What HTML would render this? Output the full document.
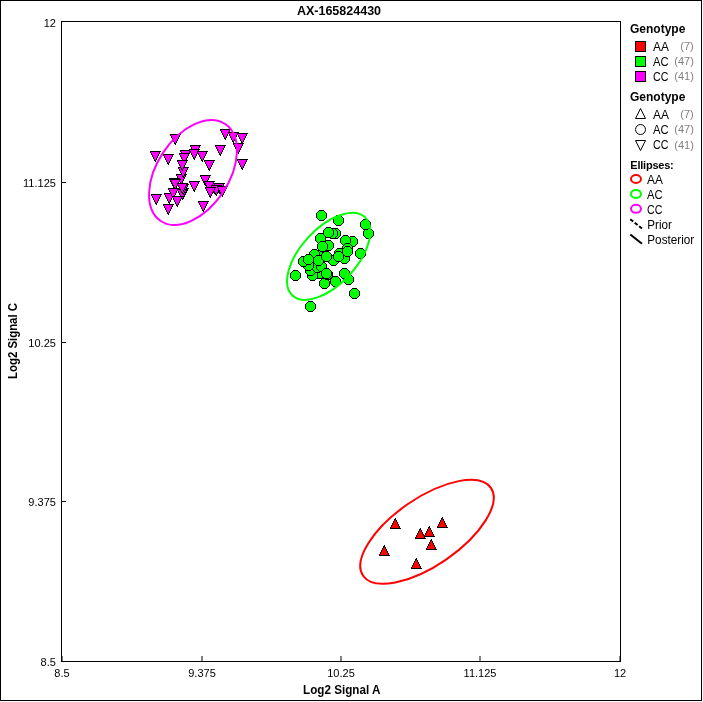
<!DOCTYPE html>
<html><head><meta charset="utf-8"><title>AX-165824430</title>
<style>
html,body{margin:0;padding:0;background:#fff;}
svg{display:block;font-family:"Liberation Sans",sans-serif;}
.t{font-size:11px;fill:#000;}
.b{font-weight:bold;fill:#000;}
.g{fill:#808080;}
</style></head><body>
<svg width="703" height="702" viewBox="0 0 703 702">
<rect x="0" y="0" width="703" height="702" fill="#fff"/>
<rect x="0.5" y="0.5" width="701" height="700" fill="none" stroke="#000" stroke-width="1" shape-rendering="crispEdges"/>
<rect x="61.5" y="21.5" width="559" height="640" fill="none" stroke="#000" stroke-width="1" shape-rendering="crispEdges"/>

<g fill="#808080" shape-rendering="crispEdges">
<rect x="62" y="656" width="1" height="5"/>
<rect x="201" y="656" width="2" height="5"/>
<rect x="340" y="656" width="2" height="5"/>
<rect x="479" y="656" width="2" height="5"/>
<rect x="619" y="656" width="1" height="5"/>
</g><g stroke="#000" stroke-width="1" shape-rendering="crispEdges">
<line x1="62" y1="182.5" x2="66" y2="182.5"/>
<line x1="62" y1="342.5" x2="66" y2="342.5"/>
<line x1="62" y1="501.5" x2="66" y2="501.5"/>
</g>
<text class="t" x="55.9" y="27" text-anchor="end">12</text>
<text class="t" x="55.9" y="187" text-anchor="end">11.125</text>
<text class="t" x="55.9" y="347" text-anchor="end">10.25</text>
<text class="t" x="55.9" y="506" text-anchor="end">9.375</text>
<text class="t" x="55.9" y="666" text-anchor="end">8.5</text>
<text class="t" x="62" y="677" text-anchor="middle">8.5</text>
<text class="t" x="202" y="677" text-anchor="middle">9.375</text>
<text class="t" x="341" y="677" text-anchor="middle">10.25</text>
<text class="t" x="480" y="677" text-anchor="middle">11.125</text>
<text class="t" x="620" y="677" text-anchor="middle">12</text>
<text class="b" x="339" y="15" text-anchor="middle" font-size="12.5">AX-165824430</text>
<text class="b" x="303" y="693.6" font-size="12.4" textLength="77.4" lengthAdjust="spacingAndGlyphs">Log2 Signal A</text>
<text class="b" transform="translate(16.9,379) rotate(-90)" font-size="12.4" textLength="76" lengthAdjust="spacingAndGlyphs">Log2 Signal C</text>
<g shape-rendering="crispEdges">
<g transform="translate(390,518)"><path fill="#000" d="M5 0h1v1h-1zM4 1h2v1h-2zM4 2h3v1h-3zM3 3h4v1h-4zM3 4h5v1h-5zM2 5h6v1h-6zM2 6h7v1h-7zM1 7h8v1h-8zM1 8h9v1h-9zM0 9h10v1h-10zM0 10h11v1h-11z"/><path fill="#ff0000" d="M5 2h1v1h-1zM4 3h2v1h-2zM4 4h3v1h-3zM3 5h4v1h-4zM3 6h5v1h-5zM2 7h6v1h-6zM2 8h7v1h-7zM1 9h8v1h-8z"/></g>
<g transform="translate(379,545)"><path fill="#000" d="M5 0h1v1h-1zM4 1h2v1h-2zM4 2h3v1h-3zM3 3h4v1h-4zM3 4h5v1h-5zM2 5h6v1h-6zM2 6h7v1h-7zM1 7h8v1h-8zM1 8h9v1h-9zM0 9h10v1h-10zM0 10h11v1h-11z"/><path fill="#ff0000" d="M5 2h1v1h-1zM4 3h2v1h-2zM4 4h3v1h-3zM3 5h4v1h-4zM3 6h5v1h-5zM2 7h6v1h-6zM2 8h7v1h-7zM1 9h8v1h-8z"/></g>
<g transform="translate(415,528)"><path fill="#000" d="M5 0h1v1h-1zM4 1h2v1h-2zM4 2h3v1h-3zM3 3h4v1h-4zM3 4h5v1h-5zM2 5h6v1h-6zM2 6h7v1h-7zM1 7h8v1h-8zM1 8h9v1h-9zM0 9h10v1h-10zM0 10h11v1h-11z"/><path fill="#ff0000" d="M5 2h1v1h-1zM4 3h2v1h-2zM4 4h3v1h-3zM3 5h4v1h-4zM3 6h5v1h-5zM2 7h6v1h-6zM2 8h7v1h-7zM1 9h8v1h-8z"/></g>
<g transform="translate(424,526)"><path fill="#000" d="M5 0h1v1h-1zM4 1h2v1h-2zM4 2h3v1h-3zM3 3h4v1h-4zM3 4h5v1h-5zM2 5h6v1h-6zM2 6h7v1h-7zM1 7h8v1h-8zM1 8h9v1h-9zM0 9h10v1h-10zM0 10h11v1h-11z"/><path fill="#ff0000" d="M5 2h1v1h-1zM4 3h2v1h-2zM4 4h3v1h-3zM3 5h4v1h-4zM3 6h5v1h-5zM2 7h6v1h-6zM2 8h7v1h-7zM1 9h8v1h-8z"/></g>
<g transform="translate(437,517)"><path fill="#000" d="M5 0h1v1h-1zM4 1h2v1h-2zM4 2h3v1h-3zM3 3h4v1h-4zM3 4h5v1h-5zM2 5h6v1h-6zM2 6h7v1h-7zM1 7h8v1h-8zM1 8h9v1h-9zM0 9h10v1h-10zM0 10h11v1h-11z"/><path fill="#ff0000" d="M5 2h1v1h-1zM4 3h2v1h-2zM4 4h3v1h-3zM3 5h4v1h-4zM3 6h5v1h-5zM2 7h6v1h-6zM2 8h7v1h-7zM1 9h8v1h-8z"/></g>
<g transform="translate(426,539)"><path fill="#000" d="M5 0h1v1h-1zM4 1h2v1h-2zM4 2h3v1h-3zM3 3h4v1h-4zM3 4h5v1h-5zM2 5h6v1h-6zM2 6h7v1h-7zM1 7h8v1h-8zM1 8h9v1h-9zM0 9h10v1h-10zM0 10h11v1h-11z"/><path fill="#ff0000" d="M5 2h1v1h-1zM4 3h2v1h-2zM4 4h3v1h-3zM3 5h4v1h-4zM3 6h5v1h-5zM2 7h6v1h-6zM2 8h7v1h-7zM1 9h8v1h-8z"/></g>
<g transform="translate(411,558)"><path fill="#000" d="M5 0h1v1h-1zM4 1h2v1h-2zM4 2h3v1h-3zM3 3h4v1h-4zM3 4h5v1h-5zM2 5h6v1h-6zM2 6h7v1h-7zM1 7h8v1h-8zM1 8h9v1h-9zM0 9h10v1h-10zM0 10h11v1h-11z"/><path fill="#ff0000" d="M5 2h1v1h-1zM4 3h2v1h-2zM4 4h3v1h-3zM3 5h4v1h-4zM3 6h5v1h-5zM2 7h6v1h-6zM2 8h7v1h-7zM1 9h8v1h-8z"/></g>
<g transform="translate(305,301)"><path fill="#000" d="M3 0h5v1h-5zM2 1h7v1h-7zM1 2h9v1h-9zM0 3h11v1h-11zM0 4h11v1h-11zM0 5h11v1h-11zM0 6h11v1h-11zM0 7h11v1h-11zM1 8h9v1h-9zM2 9h7v1h-7zM3 10h5v1h-5z"/><path fill="#00ff00" d="M3 1h5v1h-5zM2 2h7v1h-7zM1 3h9v1h-9zM1 4h9v1h-9zM1 5h9v1h-9zM1 6h9v1h-9zM1 7h9v1h-9zM2 8h7v1h-7zM3 9h5v1h-5z"/></g>
<g transform="translate(349,288)"><path fill="#000" d="M3 0h5v1h-5zM2 1h7v1h-7zM1 2h9v1h-9zM0 3h11v1h-11zM0 4h11v1h-11zM0 5h11v1h-11zM0 6h11v1h-11zM0 7h11v1h-11zM1 8h9v1h-9zM2 9h7v1h-7zM3 10h5v1h-5z"/><path fill="#00ff00" d="M3 1h5v1h-5zM2 2h7v1h-7zM1 3h9v1h-9zM1 4h9v1h-9zM1 5h9v1h-9zM1 6h9v1h-9zM1 7h9v1h-9zM2 8h7v1h-7zM3 9h5v1h-5z"/></g>
<g transform="translate(319,278)"><path fill="#000" d="M3 0h5v1h-5zM2 1h7v1h-7zM1 2h9v1h-9zM0 3h11v1h-11zM0 4h11v1h-11zM0 5h11v1h-11zM0 6h11v1h-11zM0 7h11v1h-11zM1 8h9v1h-9zM2 9h7v1h-7zM3 10h5v1h-5z"/><path fill="#00ff00" d="M3 1h5v1h-5zM2 2h7v1h-7zM1 3h9v1h-9zM1 4h9v1h-9zM1 5h9v1h-9zM1 6h9v1h-9zM1 7h9v1h-9zM2 8h7v1h-7zM3 9h5v1h-5z"/></g>
<g transform="translate(330,276)"><path fill="#000" d="M3 0h5v1h-5zM2 1h7v1h-7zM1 2h9v1h-9zM0 3h11v1h-11zM0 4h11v1h-11zM0 5h11v1h-11zM0 6h11v1h-11zM0 7h11v1h-11zM1 8h9v1h-9zM2 9h7v1h-7zM3 10h5v1h-5z"/><path fill="#00ff00" d="M3 1h5v1h-5zM2 2h7v1h-7zM1 3h9v1h-9zM1 4h9v1h-9zM1 5h9v1h-9zM1 6h9v1h-9zM1 7h9v1h-9zM2 8h7v1h-7zM3 9h5v1h-5z"/></g>
<g transform="translate(343,274)"><path fill="#000" d="M3 0h5v1h-5zM2 1h7v1h-7zM1 2h9v1h-9zM0 3h11v1h-11zM0 4h11v1h-11zM0 5h11v1h-11zM0 6h11v1h-11zM0 7h11v1h-11zM1 8h9v1h-9zM2 9h7v1h-7zM3 10h5v1h-5z"/><path fill="#00ff00" d="M3 1h5v1h-5zM2 2h7v1h-7zM1 3h9v1h-9zM1 4h9v1h-9zM1 5h9v1h-9zM1 6h9v1h-9zM1 7h9v1h-9zM2 8h7v1h-7zM3 9h5v1h-5z"/></g>
<g transform="translate(314,268)"><path fill="#000" d="M3 0h5v1h-5zM2 1h7v1h-7zM1 2h9v1h-9zM0 3h11v1h-11zM0 4h11v1h-11zM0 5h11v1h-11zM0 6h11v1h-11zM0 7h11v1h-11zM1 8h9v1h-9zM2 9h7v1h-7zM3 10h5v1h-5z"/><path fill="#00ff00" d="M3 1h5v1h-5zM2 2h7v1h-7zM1 3h9v1h-9zM1 4h9v1h-9zM1 5h9v1h-9zM1 6h9v1h-9zM1 7h9v1h-9zM2 8h7v1h-7zM3 9h5v1h-5z"/></g>
<g transform="translate(307,270)"><path fill="#000" d="M3 0h5v1h-5zM2 1h7v1h-7zM1 2h9v1h-9zM0 3h11v1h-11zM0 4h11v1h-11zM0 5h11v1h-11zM0 6h11v1h-11zM0 7h11v1h-11zM1 8h9v1h-9zM2 9h7v1h-7zM3 10h5v1h-5z"/><path fill="#00ff00" d="M3 1h5v1h-5zM2 2h7v1h-7zM1 3h9v1h-9zM1 4h9v1h-9zM1 5h9v1h-9zM1 6h9v1h-9zM1 7h9v1h-9zM2 8h7v1h-7zM3 9h5v1h-5z"/></g>
<g transform="translate(290,270)"><path fill="#000" d="M3 0h5v1h-5zM2 1h7v1h-7zM1 2h9v1h-9zM0 3h11v1h-11zM0 4h11v1h-11zM0 5h11v1h-11zM0 6h11v1h-11zM0 7h11v1h-11zM1 8h9v1h-9zM2 9h7v1h-7zM3 10h5v1h-5z"/><path fill="#00ff00" d="M3 1h5v1h-5zM2 2h7v1h-7zM1 3h9v1h-9zM1 4h9v1h-9zM1 5h9v1h-9zM1 6h9v1h-9zM1 7h9v1h-9zM2 8h7v1h-7zM3 9h5v1h-5z"/></g>
<g transform="translate(339,268)"><path fill="#000" d="M3 0h5v1h-5zM2 1h7v1h-7zM1 2h9v1h-9zM0 3h11v1h-11zM0 4h11v1h-11zM0 5h11v1h-11zM0 6h11v1h-11zM0 7h11v1h-11zM1 8h9v1h-9zM2 9h7v1h-7zM3 10h5v1h-5z"/><path fill="#00ff00" d="M3 1h5v1h-5zM2 2h7v1h-7zM1 3h9v1h-9zM1 4h9v1h-9zM1 5h9v1h-9zM1 6h9v1h-9zM1 7h9v1h-9zM2 8h7v1h-7zM3 9h5v1h-5z"/></g>
<g transform="translate(305,265)"><path fill="#000" d="M3 0h5v1h-5zM2 1h7v1h-7zM1 2h9v1h-9zM0 3h11v1h-11zM0 4h11v1h-11zM0 5h11v1h-11zM0 6h11v1h-11zM0 7h11v1h-11zM1 8h9v1h-9zM2 9h7v1h-7zM3 10h5v1h-5z"/><path fill="#00ff00" d="M3 1h5v1h-5zM2 2h7v1h-7zM1 3h9v1h-9zM1 4h9v1h-9zM1 5h9v1h-9zM1 6h9v1h-9zM1 7h9v1h-9zM2 8h7v1h-7zM3 9h5v1h-5z"/></g>
<g transform="translate(312,262)"><path fill="#000" d="M3 0h5v1h-5zM2 1h7v1h-7zM1 2h9v1h-9zM0 3h11v1h-11zM0 4h11v1h-11zM0 5h11v1h-11zM0 6h11v1h-11zM0 7h11v1h-11zM1 8h9v1h-9zM2 9h7v1h-7zM3 10h5v1h-5z"/><path fill="#00ff00" d="M3 1h5v1h-5zM2 2h7v1h-7zM1 3h9v1h-9zM1 4h9v1h-9zM1 5h9v1h-9zM1 6h9v1h-9zM1 7h9v1h-9zM2 8h7v1h-7zM3 9h5v1h-5z"/></g>
<g transform="translate(316,261)"><path fill="#000" d="M3 0h5v1h-5zM2 1h7v1h-7zM1 2h9v1h-9zM0 3h11v1h-11zM0 4h11v1h-11zM0 5h11v1h-11zM0 6h11v1h-11zM0 7h11v1h-11zM1 8h9v1h-9zM2 9h7v1h-7zM3 10h5v1h-5z"/><path fill="#00ff00" d="M3 1h5v1h-5zM2 2h7v1h-7zM1 3h9v1h-9zM1 4h9v1h-9zM1 5h9v1h-9zM1 6h9v1h-9zM1 7h9v1h-9zM2 8h7v1h-7zM3 9h5v1h-5z"/></g>
<g transform="translate(322,269)"><path fill="#000" d="M3 0h5v1h-5zM2 1h7v1h-7zM1 2h9v1h-9zM0 3h11v1h-11zM0 4h11v1h-11zM0 5h11v1h-11zM0 6h11v1h-11zM0 7h11v1h-11zM1 8h9v1h-9zM2 9h7v1h-7zM3 10h5v1h-5z"/><path fill="#00ff00" d="M3 1h5v1h-5zM2 2h7v1h-7zM1 3h9v1h-9zM1 4h9v1h-9zM1 5h9v1h-9zM1 6h9v1h-9zM1 7h9v1h-9zM2 8h7v1h-7zM3 9h5v1h-5z"/></g>
<g transform="translate(321,268)"><path fill="#000" d="M3 0h5v1h-5zM2 1h7v1h-7zM1 2h9v1h-9zM0 3h11v1h-11zM0 4h11v1h-11zM0 5h11v1h-11zM0 6h11v1h-11zM0 7h11v1h-11zM1 8h9v1h-9zM2 9h7v1h-7zM3 10h5v1h-5z"/><path fill="#00ff00" d="M3 1h5v1h-5zM2 2h7v1h-7zM1 3h9v1h-9zM1 4h9v1h-9zM1 5h9v1h-9zM1 6h9v1h-9zM1 7h9v1h-9zM2 8h7v1h-7zM3 9h5v1h-5z"/></g>
<g transform="translate(303,260)"><path fill="#000" d="M3 0h5v1h-5zM2 1h7v1h-7zM1 2h9v1h-9zM0 3h11v1h-11zM0 4h11v1h-11zM0 5h11v1h-11zM0 6h11v1h-11zM0 7h11v1h-11zM1 8h9v1h-9zM2 9h7v1h-7zM3 10h5v1h-5z"/><path fill="#00ff00" d="M3 1h5v1h-5zM2 2h7v1h-7zM1 3h9v1h-9zM1 4h9v1h-9zM1 5h9v1h-9zM1 6h9v1h-9zM1 7h9v1h-9zM2 8h7v1h-7zM3 9h5v1h-5z"/></g>
<g transform="translate(298,256)"><path fill="#000" d="M3 0h5v1h-5zM2 1h7v1h-7zM1 2h9v1h-9zM0 3h11v1h-11zM0 4h11v1h-11zM0 5h11v1h-11zM0 6h11v1h-11zM0 7h11v1h-11zM1 8h9v1h-9zM2 9h7v1h-7zM3 10h5v1h-5z"/><path fill="#00ff00" d="M3 1h5v1h-5zM2 2h7v1h-7zM1 3h9v1h-9zM1 4h9v1h-9zM1 5h9v1h-9zM1 6h9v1h-9zM1 7h9v1h-9zM2 8h7v1h-7zM3 9h5v1h-5z"/></g>
<g transform="translate(328,255)"><path fill="#000" d="M3 0h5v1h-5zM2 1h7v1h-7zM1 2h9v1h-9zM0 3h11v1h-11zM0 4h11v1h-11zM0 5h11v1h-11zM0 6h11v1h-11zM0 7h11v1h-11zM1 8h9v1h-9zM2 9h7v1h-7zM3 10h5v1h-5z"/><path fill="#00ff00" d="M3 1h5v1h-5zM2 2h7v1h-7zM1 3h9v1h-9zM1 4h9v1h-9zM1 5h9v1h-9zM1 6h9v1h-9zM1 7h9v1h-9zM2 8h7v1h-7zM3 9h5v1h-5z"/></g>
<g transform="translate(313,250)"><path fill="#000" d="M3 0h5v1h-5zM2 1h7v1h-7zM1 2h9v1h-9zM0 3h11v1h-11zM0 4h11v1h-11zM0 5h11v1h-11zM0 6h11v1h-11zM0 7h11v1h-11zM1 8h9v1h-9zM2 9h7v1h-7zM3 10h5v1h-5z"/><path fill="#00ff00" d="M3 1h5v1h-5zM2 2h7v1h-7zM1 3h9v1h-9zM1 4h9v1h-9zM1 5h9v1h-9zM1 6h9v1h-9zM1 7h9v1h-9zM2 8h7v1h-7zM3 9h5v1h-5z"/></g>
<g transform="translate(309,249)"><path fill="#000" d="M3 0h5v1h-5zM2 1h7v1h-7zM1 2h9v1h-9zM0 3h11v1h-11zM0 4h11v1h-11zM0 5h11v1h-11zM0 6h11v1h-11zM0 7h11v1h-11zM1 8h9v1h-9zM2 9h7v1h-7zM3 10h5v1h-5z"/><path fill="#00ff00" d="M3 1h5v1h-5zM2 2h7v1h-7zM1 3h9v1h-9zM1 4h9v1h-9zM1 5h9v1h-9zM1 6h9v1h-9zM1 7h9v1h-9zM2 8h7v1h-7zM3 9h5v1h-5z"/></g>
<g transform="translate(313,255)"><path fill="#000" d="M3 0h5v1h-5zM2 1h7v1h-7zM1 2h9v1h-9zM0 3h11v1h-11zM0 4h11v1h-11zM0 5h11v1h-11zM0 6h11v1h-11zM0 7h11v1h-11zM1 8h9v1h-9zM2 9h7v1h-7zM3 10h5v1h-5z"/><path fill="#00ff00" d="M3 1h5v1h-5zM2 2h7v1h-7zM1 3h9v1h-9zM1 4h9v1h-9zM1 5h9v1h-9zM1 6h9v1h-9zM1 7h9v1h-9zM2 8h7v1h-7zM3 9h5v1h-5z"/></g>
<g transform="translate(303,254)"><path fill="#000" d="M3 0h5v1h-5zM2 1h7v1h-7zM1 2h9v1h-9zM0 3h11v1h-11zM0 4h11v1h-11zM0 5h11v1h-11zM0 6h11v1h-11zM0 7h11v1h-11zM1 8h9v1h-9zM2 9h7v1h-7zM3 10h5v1h-5z"/><path fill="#00ff00" d="M3 1h5v1h-5zM2 2h7v1h-7zM1 3h9v1h-9zM1 4h9v1h-9zM1 5h9v1h-9zM1 6h9v1h-9zM1 7h9v1h-9zM2 8h7v1h-7zM3 9h5v1h-5z"/></g>
<g transform="translate(339,253)"><path fill="#000" d="M3 0h5v1h-5zM2 1h7v1h-7zM1 2h9v1h-9zM0 3h11v1h-11zM0 4h11v1h-11zM0 5h11v1h-11zM0 6h11v1h-11zM0 7h11v1h-11zM1 8h9v1h-9zM2 9h7v1h-7zM3 10h5v1h-5z"/><path fill="#00ff00" d="M3 1h5v1h-5zM2 2h7v1h-7zM1 3h9v1h-9zM1 4h9v1h-9zM1 5h9v1h-9zM1 6h9v1h-9zM1 7h9v1h-9zM2 8h7v1h-7zM3 9h5v1h-5z"/></g>
<g transform="translate(321,251)"><path fill="#000" d="M3 0h5v1h-5zM2 1h7v1h-7zM1 2h9v1h-9zM0 3h11v1h-11zM0 4h11v1h-11zM0 5h11v1h-11zM0 6h11v1h-11zM0 7h11v1h-11zM1 8h9v1h-9zM2 9h7v1h-7zM3 10h5v1h-5z"/><path fill="#00ff00" d="M3 1h5v1h-5zM2 2h7v1h-7zM1 3h9v1h-9zM1 4h9v1h-9zM1 5h9v1h-9zM1 6h9v1h-9zM1 7h9v1h-9zM2 8h7v1h-7zM3 9h5v1h-5z"/></g>
<g transform="translate(334,248)"><path fill="#000" d="M3 0h5v1h-5zM2 1h7v1h-7zM1 2h9v1h-9zM0 3h11v1h-11zM0 4h11v1h-11zM0 5h11v1h-11zM0 6h11v1h-11zM0 7h11v1h-11zM1 8h9v1h-9zM2 9h7v1h-7zM3 10h5v1h-5z"/><path fill="#00ff00" d="M3 1h5v1h-5zM2 2h7v1h-7zM1 3h9v1h-9zM1 4h9v1h-9zM1 5h9v1h-9zM1 6h9v1h-9zM1 7h9v1h-9zM2 8h7v1h-7zM3 9h5v1h-5z"/></g>
<g transform="translate(333,251)"><path fill="#000" d="M3 0h5v1h-5zM2 1h7v1h-7zM1 2h9v1h-9zM0 3h11v1h-11zM0 4h11v1h-11zM0 5h11v1h-11zM0 6h11v1h-11zM0 7h11v1h-11zM1 8h9v1h-9zM2 9h7v1h-7zM3 10h5v1h-5z"/><path fill="#00ff00" d="M3 1h5v1h-5zM2 2h7v1h-7zM1 3h9v1h-9zM1 4h9v1h-9zM1 5h9v1h-9zM1 6h9v1h-9zM1 7h9v1h-9zM2 8h7v1h-7zM3 9h5v1h-5z"/></g>
<g transform="translate(355,248)"><path fill="#000" d="M3 0h5v1h-5zM2 1h7v1h-7zM1 2h9v1h-9zM0 3h11v1h-11zM0 4h11v1h-11zM0 5h11v1h-11zM0 6h11v1h-11zM0 7h11v1h-11zM1 8h9v1h-9zM2 9h7v1h-7zM3 10h5v1h-5z"/><path fill="#00ff00" d="M3 1h5v1h-5zM2 2h7v1h-7zM1 3h9v1h-9zM1 4h9v1h-9zM1 5h9v1h-9zM1 6h9v1h-9zM1 7h9v1h-9zM2 8h7v1h-7zM3 9h5v1h-5z"/></g>
<g transform="translate(347,236)"><path fill="#000" d="M3 0h5v1h-5zM2 1h7v1h-7zM1 2h9v1h-9zM0 3h11v1h-11zM0 4h11v1h-11zM0 5h11v1h-11zM0 6h11v1h-11zM0 7h11v1h-11zM1 8h9v1h-9zM2 9h7v1h-7zM3 10h5v1h-5z"/><path fill="#00ff00" d="M3 1h5v1h-5zM2 2h7v1h-7zM1 3h9v1h-9zM1 4h9v1h-9zM1 5h9v1h-9zM1 6h9v1h-9zM1 7h9v1h-9zM2 8h7v1h-7zM3 9h5v1h-5z"/></g>
<g transform="translate(340,235)"><path fill="#000" d="M3 0h5v1h-5zM2 1h7v1h-7zM1 2h9v1h-9zM0 3h11v1h-11zM0 4h11v1h-11zM0 5h11v1h-11zM0 6h11v1h-11zM0 7h11v1h-11zM1 8h9v1h-9zM2 9h7v1h-7zM3 10h5v1h-5z"/><path fill="#00ff00" d="M3 1h5v1h-5zM2 2h7v1h-7zM1 3h9v1h-9zM1 4h9v1h-9zM1 5h9v1h-9zM1 6h9v1h-9zM1 7h9v1h-9zM2 8h7v1h-7zM3 9h5v1h-5z"/></g>
<g transform="translate(342,243)"><path fill="#000" d="M3 0h5v1h-5zM2 1h7v1h-7zM1 2h9v1h-9zM0 3h11v1h-11zM0 4h11v1h-11zM0 5h11v1h-11zM0 6h11v1h-11zM0 7h11v1h-11zM1 8h9v1h-9zM2 9h7v1h-7zM3 10h5v1h-5z"/><path fill="#00ff00" d="M3 1h5v1h-5zM2 2h7v1h-7zM1 3h9v1h-9zM1 4h9v1h-9zM1 5h9v1h-9zM1 6h9v1h-9zM1 7h9v1h-9zM2 8h7v1h-7zM3 9h5v1h-5z"/></g>
<g transform="translate(342,246)"><path fill="#000" d="M3 0h5v1h-5zM2 1h7v1h-7zM1 2h9v1h-9zM0 3h11v1h-11zM0 4h11v1h-11zM0 5h11v1h-11zM0 6h11v1h-11zM0 7h11v1h-11zM1 8h9v1h-9zM2 9h7v1h-7zM3 10h5v1h-5z"/><path fill="#00ff00" d="M3 1h5v1h-5zM2 2h7v1h-7zM1 3h9v1h-9zM1 4h9v1h-9zM1 5h9v1h-9zM1 6h9v1h-9zM1 7h9v1h-9zM2 8h7v1h-7zM3 9h5v1h-5z"/></g>
<g transform="translate(323,240)"><path fill="#000" d="M3 0h5v1h-5zM2 1h7v1h-7zM1 2h9v1h-9zM0 3h11v1h-11zM0 4h11v1h-11zM0 5h11v1h-11zM0 6h11v1h-11zM0 7h11v1h-11zM1 8h9v1h-9zM2 9h7v1h-7zM3 10h5v1h-5z"/><path fill="#00ff00" d="M3 1h5v1h-5zM2 2h7v1h-7zM1 3h9v1h-9zM1 4h9v1h-9zM1 5h9v1h-9zM1 6h9v1h-9zM1 7h9v1h-9zM2 8h7v1h-7zM3 9h5v1h-5z"/></g>
<g transform="translate(315,233)"><path fill="#000" d="M3 0h5v1h-5zM2 1h7v1h-7zM1 2h9v1h-9zM0 3h11v1h-11zM0 4h11v1h-11zM0 5h11v1h-11zM0 6h11v1h-11zM0 7h11v1h-11zM1 8h9v1h-9zM2 9h7v1h-7zM3 10h5v1h-5z"/><path fill="#00ff00" d="M3 1h5v1h-5zM2 2h7v1h-7zM1 3h9v1h-9zM1 4h9v1h-9zM1 5h9v1h-9zM1 6h9v1h-9zM1 7h9v1h-9zM2 8h7v1h-7zM3 9h5v1h-5z"/></g>
<g transform="translate(317,241)"><path fill="#000" d="M3 0h5v1h-5zM2 1h7v1h-7zM1 2h9v1h-9zM0 3h11v1h-11zM0 4h11v1h-11zM0 5h11v1h-11zM0 6h11v1h-11zM0 7h11v1h-11zM1 8h9v1h-9zM2 9h7v1h-7zM3 10h5v1h-5z"/><path fill="#00ff00" d="M3 1h5v1h-5zM2 2h7v1h-7zM1 3h9v1h-9zM1 4h9v1h-9zM1 5h9v1h-9zM1 6h9v1h-9zM1 7h9v1h-9zM2 8h7v1h-7zM3 9h5v1h-5z"/></g>
<g transform="translate(330,228)"><path fill="#000" d="M3 0h5v1h-5zM2 1h7v1h-7zM1 2h9v1h-9zM0 3h11v1h-11zM0 4h11v1h-11zM0 5h11v1h-11zM0 6h11v1h-11zM0 7h11v1h-11zM1 8h9v1h-9zM2 9h7v1h-7zM3 10h5v1h-5z"/><path fill="#00ff00" d="M3 1h5v1h-5zM2 2h7v1h-7zM1 3h9v1h-9zM1 4h9v1h-9zM1 5h9v1h-9zM1 6h9v1h-9zM1 7h9v1h-9zM2 8h7v1h-7zM3 9h5v1h-5z"/></g>
<g transform="translate(327,228)"><path fill="#000" d="M3 0h5v1h-5zM2 1h7v1h-7zM1 2h9v1h-9zM0 3h11v1h-11zM0 4h11v1h-11zM0 5h11v1h-11zM0 6h11v1h-11zM0 7h11v1h-11zM1 8h9v1h-9zM2 9h7v1h-7zM3 10h5v1h-5z"/><path fill="#00ff00" d="M3 1h5v1h-5zM2 2h7v1h-7zM1 3h9v1h-9zM1 4h9v1h-9zM1 5h9v1h-9zM1 6h9v1h-9zM1 7h9v1h-9zM2 8h7v1h-7zM3 9h5v1h-5z"/></g>
<g transform="translate(323,227)"><path fill="#000" d="M3 0h5v1h-5zM2 1h7v1h-7zM1 2h9v1h-9zM0 3h11v1h-11zM0 4h11v1h-11zM0 5h11v1h-11zM0 6h11v1h-11zM0 7h11v1h-11zM1 8h9v1h-9zM2 9h7v1h-7zM3 10h5v1h-5z"/><path fill="#00ff00" d="M3 1h5v1h-5zM2 2h7v1h-7zM1 3h9v1h-9zM1 4h9v1h-9zM1 5h9v1h-9zM1 6h9v1h-9zM1 7h9v1h-9zM2 8h7v1h-7zM3 9h5v1h-5z"/></g>
<g transform="translate(363,228)"><path fill="#000" d="M3 0h5v1h-5zM2 1h7v1h-7zM1 2h9v1h-9zM0 3h11v1h-11zM0 4h11v1h-11zM0 5h11v1h-11zM0 6h11v1h-11zM0 7h11v1h-11zM1 8h9v1h-9zM2 9h7v1h-7zM3 10h5v1h-5z"/><path fill="#00ff00" d="M3 1h5v1h-5zM2 2h7v1h-7zM1 3h9v1h-9zM1 4h9v1h-9zM1 5h9v1h-9zM1 6h9v1h-9zM1 7h9v1h-9zM2 8h7v1h-7zM3 9h5v1h-5z"/></g>
<g transform="translate(360,219)"><path fill="#000" d="M3 0h5v1h-5zM2 1h7v1h-7zM1 2h9v1h-9zM0 3h11v1h-11zM0 4h11v1h-11zM0 5h11v1h-11zM0 6h11v1h-11zM0 7h11v1h-11zM1 8h9v1h-9zM2 9h7v1h-7zM3 10h5v1h-5z"/><path fill="#00ff00" d="M3 1h5v1h-5zM2 2h7v1h-7zM1 3h9v1h-9zM1 4h9v1h-9zM1 5h9v1h-9zM1 6h9v1h-9zM1 7h9v1h-9zM2 8h7v1h-7zM3 9h5v1h-5z"/></g>
<g transform="translate(333,215)"><path fill="#000" d="M3 0h5v1h-5zM2 1h7v1h-7zM1 2h9v1h-9zM0 3h11v1h-11zM0 4h11v1h-11zM0 5h11v1h-11zM0 6h11v1h-11zM0 7h11v1h-11zM1 8h9v1h-9zM2 9h7v1h-7zM3 10h5v1h-5z"/><path fill="#00ff00" d="M3 1h5v1h-5zM2 2h7v1h-7zM1 3h9v1h-9zM1 4h9v1h-9zM1 5h9v1h-9zM1 6h9v1h-9zM1 7h9v1h-9zM2 8h7v1h-7zM3 9h5v1h-5z"/></g>
<g transform="translate(316,210)"><path fill="#000" d="M3 0h5v1h-5zM2 1h7v1h-7zM1 2h9v1h-9zM0 3h11v1h-11zM0 4h11v1h-11zM0 5h11v1h-11zM0 6h11v1h-11zM0 7h11v1h-11zM1 8h9v1h-9zM2 9h7v1h-7zM3 10h5v1h-5z"/><path fill="#00ff00" d="M3 1h5v1h-5zM2 2h7v1h-7zM1 3h9v1h-9zM1 4h9v1h-9zM1 5h9v1h-9zM1 6h9v1h-9zM1 7h9v1h-9zM2 8h7v1h-7zM3 9h5v1h-5z"/></g>
<g transform="translate(170,134)"><path fill="#000" d="M0 0h11v1h-11zM0 1h10v1h-10zM1 2h9v1h-9zM1 3h8v1h-8zM2 4h7v1h-7zM2 5h6v1h-6zM3 6h5v1h-5zM3 7h4v1h-4zM4 8h3v1h-3zM4 9h2v1h-2zM5 10h1v1h-1z"/><path fill="#ff00ff" d="M1 1h8v1h-8zM2 2h7v1h-7zM2 3h6v1h-6zM3 4h5v1h-5zM3 5h4v1h-4zM4 6h3v1h-3zM4 7h2v1h-2zM5 8h1v1h-1z"/></g>
<g transform="translate(150,151)"><path fill="#000" d="M0 0h11v1h-11zM0 1h10v1h-10zM1 2h9v1h-9zM1 3h8v1h-8zM2 4h7v1h-7zM2 5h6v1h-6zM3 6h5v1h-5zM3 7h4v1h-4zM4 8h3v1h-3zM4 9h2v1h-2zM5 10h1v1h-1z"/><path fill="#ff00ff" d="M1 1h8v1h-8zM2 2h7v1h-7zM2 3h6v1h-6zM3 4h5v1h-5zM3 5h4v1h-4zM4 6h3v1h-3zM4 7h2v1h-2zM5 8h1v1h-1z"/></g>
<g transform="translate(163,154)"><path fill="#000" d="M0 0h11v1h-11zM0 1h10v1h-10zM1 2h9v1h-9zM1 3h8v1h-8zM2 4h7v1h-7zM2 5h6v1h-6zM3 6h5v1h-5zM3 7h4v1h-4zM4 8h3v1h-3zM4 9h2v1h-2zM5 10h1v1h-1z"/><path fill="#ff00ff" d="M1 1h8v1h-8zM2 2h7v1h-7zM2 3h6v1h-6zM3 4h5v1h-5zM3 5h4v1h-4zM4 6h3v1h-3zM4 7h2v1h-2zM5 8h1v1h-1z"/></g>
<g transform="translate(190,145)"><path fill="#000" d="M0 0h11v1h-11zM0 1h10v1h-10zM1 2h9v1h-9zM1 3h8v1h-8zM2 4h7v1h-7zM2 5h6v1h-6zM3 6h5v1h-5zM3 7h4v1h-4zM4 8h3v1h-3zM4 9h2v1h-2zM5 10h1v1h-1z"/><path fill="#ff00ff" d="M1 1h8v1h-8zM2 2h7v1h-7zM2 3h6v1h-6zM3 4h5v1h-5zM3 5h4v1h-4zM4 6h3v1h-3zM4 7h2v1h-2zM5 8h1v1h-1z"/></g>
<g transform="translate(180,150)"><path fill="#000" d="M0 0h11v1h-11zM0 1h10v1h-10zM1 2h9v1h-9zM1 3h8v1h-8zM2 4h7v1h-7zM2 5h6v1h-6zM3 6h5v1h-5zM3 7h4v1h-4zM4 8h3v1h-3zM4 9h2v1h-2zM5 10h1v1h-1z"/><path fill="#ff00ff" d="M1 1h8v1h-8zM2 2h7v1h-7zM2 3h6v1h-6zM3 4h5v1h-5zM3 5h4v1h-4zM4 6h3v1h-3zM4 7h2v1h-2zM5 8h1v1h-1z"/></g>
<g transform="translate(179,153)"><path fill="#000" d="M0 0h11v1h-11zM0 1h10v1h-10zM1 2h9v1h-9zM1 3h8v1h-8zM2 4h7v1h-7zM2 5h6v1h-6zM3 6h5v1h-5zM3 7h4v1h-4zM4 8h3v1h-3zM4 9h2v1h-2zM5 10h1v1h-1z"/><path fill="#ff00ff" d="M1 1h8v1h-8zM2 2h7v1h-7zM2 3h6v1h-6zM3 4h5v1h-5zM3 5h4v1h-4zM4 6h3v1h-3zM4 7h2v1h-2zM5 8h1v1h-1z"/></g>
<g transform="translate(189,149)"><path fill="#000" d="M0 0h11v1h-11zM0 1h10v1h-10zM1 2h9v1h-9zM1 3h8v1h-8zM2 4h7v1h-7zM2 5h6v1h-6zM3 6h5v1h-5zM3 7h4v1h-4zM4 8h3v1h-3zM4 9h2v1h-2zM5 10h1v1h-1z"/><path fill="#ff00ff" d="M1 1h8v1h-8zM2 2h7v1h-7zM2 3h6v1h-6zM3 4h5v1h-5zM3 5h4v1h-4zM4 6h3v1h-3zM4 7h2v1h-2zM5 8h1v1h-1z"/></g>
<g transform="translate(197,151)"><path fill="#000" d="M0 0h11v1h-11zM0 1h10v1h-10zM1 2h9v1h-9zM1 3h8v1h-8zM2 4h7v1h-7zM2 5h6v1h-6zM3 6h5v1h-5zM3 7h4v1h-4zM4 8h3v1h-3zM4 9h2v1h-2zM5 10h1v1h-1z"/><path fill="#ff00ff" d="M1 1h8v1h-8zM2 2h7v1h-7zM2 3h6v1h-6zM3 4h5v1h-5zM3 5h4v1h-4zM4 6h3v1h-3zM4 7h2v1h-2zM5 8h1v1h-1z"/></g>
<g transform="translate(176,174)"><path fill="#000" d="M0 0h11v1h-11zM0 1h10v1h-10zM1 2h9v1h-9zM1 3h8v1h-8zM2 4h7v1h-7zM2 5h6v1h-6zM3 6h5v1h-5zM3 7h4v1h-4zM4 8h3v1h-3zM4 9h2v1h-2zM5 10h1v1h-1z"/><path fill="#ff00ff" d="M1 1h8v1h-8zM2 2h7v1h-7zM2 3h6v1h-6zM3 4h5v1h-5zM3 5h4v1h-4zM4 6h3v1h-3zM4 7h2v1h-2zM5 8h1v1h-1z"/></g>
<g transform="translate(178,167)"><path fill="#000" d="M0 0h11v1h-11zM0 1h10v1h-10zM1 2h9v1h-9zM1 3h8v1h-8zM2 4h7v1h-7zM2 5h6v1h-6zM3 6h5v1h-5zM3 7h4v1h-4zM4 8h3v1h-3zM4 9h2v1h-2zM5 10h1v1h-1z"/><path fill="#ff00ff" d="M1 1h8v1h-8zM2 2h7v1h-7zM2 3h6v1h-6zM3 4h5v1h-5zM3 5h4v1h-4zM4 6h3v1h-3zM4 7h2v1h-2zM5 8h1v1h-1z"/></g>
<g transform="translate(177,160)"><path fill="#000" d="M0 0h11v1h-11zM0 1h10v1h-10zM1 2h9v1h-9zM1 3h8v1h-8zM2 4h7v1h-7zM2 5h6v1h-6zM3 6h5v1h-5zM3 7h4v1h-4zM4 8h3v1h-3zM4 9h2v1h-2zM5 10h1v1h-1z"/><path fill="#ff00ff" d="M1 1h8v1h-8zM2 2h7v1h-7zM2 3h6v1h-6zM3 4h5v1h-5zM3 5h4v1h-4zM4 6h3v1h-3zM4 7h2v1h-2zM5 8h1v1h-1z"/></g>
<g transform="translate(169,178)"><path fill="#000" d="M0 0h11v1h-11zM0 1h10v1h-10zM1 2h9v1h-9zM1 3h8v1h-8zM2 4h7v1h-7zM2 5h6v1h-6zM3 6h5v1h-5zM3 7h4v1h-4zM4 8h3v1h-3zM4 9h2v1h-2zM5 10h1v1h-1z"/><path fill="#ff00ff" d="M1 1h8v1h-8zM2 2h7v1h-7zM2 3h6v1h-6zM3 4h5v1h-5zM3 5h4v1h-4zM4 6h3v1h-3zM4 7h2v1h-2zM5 8h1v1h-1z"/></g>
<g transform="translate(170,179)"><path fill="#000" d="M0 0h11v1h-11zM0 1h10v1h-10zM1 2h9v1h-9zM1 3h8v1h-8zM2 4h7v1h-7zM2 5h6v1h-6zM3 6h5v1h-5zM3 7h4v1h-4zM4 8h3v1h-3zM4 9h2v1h-2zM5 10h1v1h-1z"/><path fill="#ff00ff" d="M1 1h8v1h-8zM2 2h7v1h-7zM2 3h6v1h-6zM3 4h5v1h-5zM3 5h4v1h-4zM4 6h3v1h-3zM4 7h2v1h-2zM5 8h1v1h-1z"/></g>
<g transform="translate(189,181)"><path fill="#000" d="M0 0h11v1h-11zM0 1h10v1h-10zM1 2h9v1h-9zM1 3h8v1h-8zM2 4h7v1h-7zM2 5h6v1h-6zM3 6h5v1h-5zM3 7h4v1h-4zM4 8h3v1h-3zM4 9h2v1h-2zM5 10h1v1h-1z"/><path fill="#ff00ff" d="M1 1h8v1h-8zM2 2h7v1h-7zM2 3h6v1h-6zM3 4h5v1h-5zM3 5h4v1h-4zM4 6h3v1h-3zM4 7h2v1h-2zM5 8h1v1h-1z"/></g>
<g transform="translate(200,175)"><path fill="#000" d="M0 0h11v1h-11zM0 1h10v1h-10zM1 2h9v1h-9zM1 3h8v1h-8zM2 4h7v1h-7zM2 5h6v1h-6zM3 6h5v1h-5zM3 7h4v1h-4zM4 8h3v1h-3zM4 9h2v1h-2zM5 10h1v1h-1z"/><path fill="#ff00ff" d="M1 1h8v1h-8zM2 2h7v1h-7zM2 3h6v1h-6zM3 4h5v1h-5zM3 5h4v1h-4zM4 6h3v1h-3zM4 7h2v1h-2zM5 8h1v1h-1z"/></g>
<g transform="translate(220,129)"><path fill="#000" d="M0 0h11v1h-11zM0 1h10v1h-10zM1 2h9v1h-9zM1 3h8v1h-8zM2 4h7v1h-7zM2 5h6v1h-6zM3 6h5v1h-5zM3 7h4v1h-4zM4 8h3v1h-3zM4 9h2v1h-2zM5 10h1v1h-1z"/><path fill="#ff00ff" d="M1 1h8v1h-8zM2 2h7v1h-7zM2 3h6v1h-6zM3 4h5v1h-5zM3 5h4v1h-4zM4 6h3v1h-3zM4 7h2v1h-2zM5 8h1v1h-1z"/></g>
<g transform="translate(228,132)"><path fill="#000" d="M0 0h11v1h-11zM0 1h10v1h-10zM1 2h9v1h-9zM1 3h8v1h-8zM2 4h7v1h-7zM2 5h6v1h-6zM3 6h5v1h-5zM3 7h4v1h-4zM4 8h3v1h-3zM4 9h2v1h-2zM5 10h1v1h-1z"/><path fill="#ff00ff" d="M1 1h8v1h-8zM2 2h7v1h-7zM2 3h6v1h-6zM3 4h5v1h-5zM3 5h4v1h-4zM4 6h3v1h-3zM4 7h2v1h-2zM5 8h1v1h-1z"/></g>
<g transform="translate(237,133)"><path fill="#000" d="M0 0h11v1h-11zM0 1h10v1h-10zM1 2h9v1h-9zM1 3h8v1h-8zM2 4h7v1h-7zM2 5h6v1h-6zM3 6h5v1h-5zM3 7h4v1h-4zM4 8h3v1h-3zM4 9h2v1h-2zM5 10h1v1h-1z"/><path fill="#ff00ff" d="M1 1h8v1h-8zM2 2h7v1h-7zM2 3h6v1h-6zM3 4h5v1h-5zM3 5h4v1h-4zM4 6h3v1h-3zM4 7h2v1h-2zM5 8h1v1h-1z"/></g>
<g transform="translate(233,143)"><path fill="#000" d="M0 0h11v1h-11zM0 1h10v1h-10zM1 2h9v1h-9zM1 3h8v1h-8zM2 4h7v1h-7zM2 5h6v1h-6zM3 6h5v1h-5zM3 7h4v1h-4zM4 8h3v1h-3zM4 9h2v1h-2zM5 10h1v1h-1z"/><path fill="#ff00ff" d="M1 1h8v1h-8zM2 2h7v1h-7zM2 3h6v1h-6zM3 4h5v1h-5zM3 5h4v1h-4zM4 6h3v1h-3zM4 7h2v1h-2zM5 8h1v1h-1z"/></g>
<g transform="translate(215,145)"><path fill="#000" d="M0 0h11v1h-11zM0 1h10v1h-10zM1 2h9v1h-9zM1 3h8v1h-8zM2 4h7v1h-7zM2 5h6v1h-6zM3 6h5v1h-5zM3 7h4v1h-4zM4 8h3v1h-3zM4 9h2v1h-2zM5 10h1v1h-1z"/><path fill="#ff00ff" d="M1 1h8v1h-8zM2 2h7v1h-7zM2 3h6v1h-6zM3 4h5v1h-5zM3 5h4v1h-4zM4 6h3v1h-3zM4 7h2v1h-2zM5 8h1v1h-1z"/></g>
<g transform="translate(237,159)"><path fill="#000" d="M0 0h11v1h-11zM0 1h10v1h-10zM1 2h9v1h-9zM1 3h8v1h-8zM2 4h7v1h-7zM2 5h6v1h-6zM3 6h5v1h-5zM3 7h4v1h-4zM4 8h3v1h-3zM4 9h2v1h-2zM5 10h1v1h-1z"/><path fill="#ff00ff" d="M1 1h8v1h-8zM2 2h7v1h-7zM2 3h6v1h-6zM3 4h5v1h-5zM3 5h4v1h-4zM4 6h3v1h-3zM4 7h2v1h-2zM5 8h1v1h-1z"/></g>
<g transform="translate(204,160)"><path fill="#000" d="M0 0h11v1h-11zM0 1h10v1h-10zM1 2h9v1h-9zM1 3h8v1h-8zM2 4h7v1h-7zM2 5h6v1h-6zM3 6h5v1h-5zM3 7h4v1h-4zM4 8h3v1h-3zM4 9h2v1h-2zM5 10h1v1h-1z"/><path fill="#ff00ff" d="M1 1h8v1h-8zM2 2h7v1h-7zM2 3h6v1h-6zM3 4h5v1h-5zM3 5h4v1h-4zM4 6h3v1h-3zM4 7h2v1h-2zM5 8h1v1h-1z"/></g>
<g transform="translate(178,188)"><path fill="#000" d="M0 0h11v1h-11zM0 1h10v1h-10zM1 2h9v1h-9zM1 3h8v1h-8zM2 4h7v1h-7zM2 5h6v1h-6zM3 6h5v1h-5zM3 7h4v1h-4zM4 8h3v1h-3zM4 9h2v1h-2zM5 10h1v1h-1z"/><path fill="#ff00ff" d="M1 1h8v1h-8zM2 2h7v1h-7zM2 3h6v1h-6zM3 4h5v1h-5zM3 5h4v1h-4zM4 6h3v1h-3zM4 7h2v1h-2zM5 8h1v1h-1z"/></g>
<g transform="translate(177,189)"><path fill="#000" d="M0 0h11v1h-11zM0 1h10v1h-10zM1 2h9v1h-9zM1 3h8v1h-8zM2 4h7v1h-7zM2 5h6v1h-6zM3 6h5v1h-5zM3 7h4v1h-4zM4 8h3v1h-3zM4 9h2v1h-2zM5 10h1v1h-1z"/><path fill="#ff00ff" d="M1 1h8v1h-8zM2 2h7v1h-7zM2 3h6v1h-6zM3 4h5v1h-5zM3 5h4v1h-4zM4 6h3v1h-3zM4 7h2v1h-2zM5 8h1v1h-1z"/></g>
<g transform="translate(178,184)"><path fill="#000" d="M0 0h11v1h-11zM0 1h10v1h-10zM1 2h9v1h-9zM1 3h8v1h-8zM2 4h7v1h-7zM2 5h6v1h-6zM3 6h5v1h-5zM3 7h4v1h-4zM4 8h3v1h-3zM4 9h2v1h-2zM5 10h1v1h-1z"/><path fill="#ff00ff" d="M1 1h8v1h-8zM2 2h7v1h-7zM2 3h6v1h-6zM3 4h5v1h-5zM3 5h4v1h-4zM4 6h3v1h-3zM4 7h2v1h-2zM5 8h1v1h-1z"/></g>
<g transform="translate(177,183)"><path fill="#000" d="M0 0h11v1h-11zM0 1h10v1h-10zM1 2h9v1h-9zM1 3h8v1h-8zM2 4h7v1h-7zM2 5h6v1h-6zM3 6h5v1h-5zM3 7h4v1h-4zM4 8h3v1h-3zM4 9h2v1h-2zM5 10h1v1h-1z"/><path fill="#ff00ff" d="M1 1h8v1h-8zM2 2h7v1h-7zM2 3h6v1h-6zM3 4h5v1h-5zM3 5h4v1h-4zM4 6h3v1h-3zM4 7h2v1h-2zM5 8h1v1h-1z"/></g>
<g transform="translate(164,193)"><path fill="#000" d="M0 0h11v1h-11zM0 1h10v1h-10zM1 2h9v1h-9zM1 3h8v1h-8zM2 4h7v1h-7zM2 5h6v1h-6zM3 6h5v1h-5zM3 7h4v1h-4zM4 8h3v1h-3zM4 9h2v1h-2zM5 10h1v1h-1z"/><path fill="#ff00ff" d="M1 1h8v1h-8zM2 2h7v1h-7zM2 3h6v1h-6zM3 4h5v1h-5zM3 5h4v1h-4zM4 6h3v1h-3zM4 7h2v1h-2zM5 8h1v1h-1z"/></g>
<g transform="translate(168,188)"><path fill="#000" d="M0 0h11v1h-11zM0 1h10v1h-10zM1 2h9v1h-9zM1 3h8v1h-8zM2 4h7v1h-7zM2 5h6v1h-6zM3 6h5v1h-5zM3 7h4v1h-4zM4 8h3v1h-3zM4 9h2v1h-2zM5 10h1v1h-1z"/><path fill="#ff00ff" d="M1 1h8v1h-8zM2 2h7v1h-7zM2 3h6v1h-6zM3 4h5v1h-5zM3 5h4v1h-4zM4 6h3v1h-3zM4 7h2v1h-2zM5 8h1v1h-1z"/></g>
<g transform="translate(151,194)"><path fill="#000" d="M0 0h11v1h-11zM0 1h10v1h-10zM1 2h9v1h-9zM1 3h8v1h-8zM2 4h7v1h-7zM2 5h6v1h-6zM3 6h5v1h-5zM3 7h4v1h-4zM4 8h3v1h-3zM4 9h2v1h-2zM5 10h1v1h-1z"/><path fill="#ff00ff" d="M1 1h8v1h-8zM2 2h7v1h-7zM2 3h6v1h-6zM3 4h5v1h-5zM3 5h4v1h-4zM4 6h3v1h-3zM4 7h2v1h-2zM5 8h1v1h-1z"/></g>
<g transform="translate(172,196)"><path fill="#000" d="M0 0h11v1h-11zM0 1h10v1h-10zM1 2h9v1h-9zM1 3h8v1h-8zM2 4h7v1h-7zM2 5h6v1h-6zM3 6h5v1h-5zM3 7h4v1h-4zM4 8h3v1h-3zM4 9h2v1h-2zM5 10h1v1h-1z"/><path fill="#ff00ff" d="M1 1h8v1h-8zM2 2h7v1h-7zM2 3h6v1h-6zM3 4h5v1h-5zM3 5h4v1h-4zM4 6h3v1h-3zM4 7h2v1h-2zM5 8h1v1h-1z"/></g>
<g transform="translate(163,204)"><path fill="#000" d="M0 0h11v1h-11zM0 1h10v1h-10zM1 2h9v1h-9zM1 3h8v1h-8zM2 4h7v1h-7zM2 5h6v1h-6zM3 6h5v1h-5zM3 7h4v1h-4zM4 8h3v1h-3zM4 9h2v1h-2zM5 10h1v1h-1z"/><path fill="#ff00ff" d="M1 1h8v1h-8zM2 2h7v1h-7zM2 3h6v1h-6zM3 4h5v1h-5zM3 5h4v1h-4zM4 6h3v1h-3zM4 7h2v1h-2zM5 8h1v1h-1z"/></g>
<g transform="translate(198,201)"><path fill="#000" d="M0 0h11v1h-11zM0 1h10v1h-10zM1 2h9v1h-9zM1 3h8v1h-8zM2 4h7v1h-7zM2 5h6v1h-6zM3 6h5v1h-5zM3 7h4v1h-4zM4 8h3v1h-3zM4 9h2v1h-2zM5 10h1v1h-1z"/><path fill="#ff00ff" d="M1 1h8v1h-8zM2 2h7v1h-7zM2 3h6v1h-6zM3 4h5v1h-5zM3 5h4v1h-4zM4 6h3v1h-3zM4 7h2v1h-2zM5 8h1v1h-1z"/></g>
<g transform="translate(209,183)"><path fill="#000" d="M0 0h11v1h-11zM0 1h10v1h-10zM1 2h9v1h-9zM1 3h8v1h-8zM2 4h7v1h-7zM2 5h6v1h-6zM3 6h5v1h-5zM3 7h4v1h-4zM4 8h3v1h-3zM4 9h2v1h-2zM5 10h1v1h-1z"/><path fill="#ff00ff" d="M1 1h8v1h-8zM2 2h7v1h-7zM2 3h6v1h-6zM3 4h5v1h-5zM3 5h4v1h-4zM4 6h3v1h-3zM4 7h2v1h-2zM5 8h1v1h-1z"/></g>
<g transform="translate(214,183)"><path fill="#000" d="M0 0h11v1h-11zM0 1h10v1h-10zM1 2h9v1h-9zM1 3h8v1h-8zM2 4h7v1h-7zM2 5h6v1h-6zM3 6h5v1h-5zM3 7h4v1h-4zM4 8h3v1h-3zM4 9h2v1h-2zM5 10h1v1h-1z"/><path fill="#ff00ff" d="M1 1h8v1h-8zM2 2h7v1h-7zM2 3h6v1h-6zM3 4h5v1h-5zM3 5h4v1h-4zM4 6h3v1h-3zM4 7h2v1h-2zM5 8h1v1h-1z"/></g>
<g transform="translate(204,181)"><path fill="#000" d="M0 0h11v1h-11zM0 1h10v1h-10zM1 2h9v1h-9zM1 3h8v1h-8zM2 4h7v1h-7zM2 5h6v1h-6zM3 6h5v1h-5zM3 7h4v1h-4zM4 8h3v1h-3zM4 9h2v1h-2zM5 10h1v1h-1z"/><path fill="#ff00ff" d="M1 1h8v1h-8zM2 2h7v1h-7zM2 3h6v1h-6zM3 4h5v1h-5zM3 5h4v1h-4zM4 6h3v1h-3zM4 7h2v1h-2zM5 8h1v1h-1z"/></g>
<g transform="translate(211,185)"><path fill="#000" d="M0 0h11v1h-11zM0 1h10v1h-10zM1 2h9v1h-9zM1 3h8v1h-8zM2 4h7v1h-7zM2 5h6v1h-6zM3 6h5v1h-5zM3 7h4v1h-4zM4 8h3v1h-3zM4 9h2v1h-2zM5 10h1v1h-1z"/><path fill="#ff00ff" d="M1 1h8v1h-8zM2 2h7v1h-7zM2 3h6v1h-6zM3 4h5v1h-5zM3 5h4v1h-4zM4 6h3v1h-3zM4 7h2v1h-2zM5 8h1v1h-1z"/></g>
<g transform="translate(205,187)"><path fill="#000" d="M0 0h11v1h-11zM0 1h10v1h-10zM1 2h9v1h-9zM1 3h8v1h-8zM2 4h7v1h-7zM2 5h6v1h-6zM3 6h5v1h-5zM3 7h4v1h-4zM4 8h3v1h-3zM4 9h2v1h-2zM5 10h1v1h-1z"/><path fill="#ff00ff" d="M1 1h8v1h-8zM2 2h7v1h-7zM2 3h6v1h-6zM3 4h5v1h-5zM3 5h4v1h-4zM4 6h3v1h-3zM4 7h2v1h-2zM5 8h1v1h-1z"/></g>
<g transform="translate(217,186)"><path fill="#000" d="M0 0h11v1h-11zM0 1h10v1h-10zM1 2h9v1h-9zM1 3h8v1h-8zM2 4h7v1h-7zM2 5h6v1h-6zM3 6h5v1h-5zM3 7h4v1h-4zM4 8h3v1h-3zM4 9h2v1h-2zM5 10h1v1h-1z"/><path fill="#ff00ff" d="M1 1h8v1h-8zM2 2h7v1h-7zM2 3h6v1h-6zM3 4h5v1h-5zM3 5h4v1h-4zM4 6h3v1h-3zM4 7h2v1h-2zM5 8h1v1h-1z"/></g>
</g>
<ellipse cx="427" cy="531.8" rx="77.5" ry="33.7" transform="rotate(-34.5 427 531.8)" fill="none" stroke="#ff0000" stroke-width="2"/>
<ellipse cx="328.7" cy="256.3" rx="53.3" ry="27.9" transform="rotate(-47.2 328.7 256.3)" fill="none" stroke="#00ff00" stroke-width="2"/>
<ellipse cx="193.0" cy="172.5" rx="58.2" ry="35.9" transform="rotate(-56.4 193.0 172.5)" fill="none" stroke="#ff00ff" stroke-width="2"/>
<text class="b" x="630" y="33" font-size="12">Genotype</text>
<rect x="635.5" y="41.5" width="10" height="10" fill="#ff0000" stroke="#000" shape-rendering="crispEdges"/>
<text class="t" x="653" y="51.0" style="font-size:12.3px" textLength="15.9" lengthAdjust="spacingAndGlyphs">AA</text>
<text class="t g" x="693.8" y="50.1" text-anchor="end" style="fill:#808080">(7)</text>
<rect x="635.5" y="56.5" width="10" height="10" fill="#00ff00" stroke="#000" shape-rendering="crispEdges"/>
<text class="t" x="653" y="66.0" style="font-size:12.3px" textLength="15.6" lengthAdjust="spacingAndGlyphs">AC</text>
<text class="t g" x="693.8" y="65.1" text-anchor="end" style="fill:#808080">(47)</text>
<rect x="635.5" y="71.5" width="10" height="10" fill="#ff00ff" stroke="#000" shape-rendering="crispEdges"/>
<text class="t" x="653" y="81.0" style="font-size:12.3px" textLength="15.4" lengthAdjust="spacingAndGlyphs">CC</text>
<text class="t g" x="693.8" y="80.1" text-anchor="end" style="fill:#808080">(41)</text>
<text class="b" x="630" y="101" font-size="12">Genotype</text>
<polygon points="635.5,118.5 645.5,118.5 640.5,108.5" fill="#fff" stroke="#000" stroke-width="1"/>
<text class="t" x="653" y="118.6" style="font-size:12.3px" textLength="15.9" lengthAdjust="spacingAndGlyphs">AA</text>
<text class="t" x="693.8" y="118.3" text-anchor="end" style="fill:#808080">(7)</text>
<circle cx="640.5" cy="129.5" r="5" fill="#fff" stroke="#000" stroke-width="1"/>
<text class="t" x="653" y="133.70000000000002" style="font-size:12.3px" textLength="15.6" lengthAdjust="spacingAndGlyphs">AC</text>
<text class="t" x="693.8" y="133.4" text-anchor="end" style="fill:#808080">(47)</text>
<polygon points="635.5,140.5 645.5,140.5 640.5,150.5" fill="#fff" stroke="#000" stroke-width="1"/>
<text class="t" x="653" y="148.8" style="font-size:12.3px" textLength="15.4" lengthAdjust="spacingAndGlyphs">CC</text>
<text class="t" x="693.8" y="148.5" text-anchor="end" style="fill:#808080">(41)</text>
<text class="b" x="630.3" y="168.5" font-size="11" letter-spacing="-0.22">Ellipses:</text>
<ellipse cx="636.0" cy="179.0" rx="5.0" ry="4.0" fill="none" stroke="#ff0000" stroke-width="2"/>
<text class="t" x="647" y="183.7" style="font-size:12.3px" textLength="15.9" lengthAdjust="spacingAndGlyphs">AA</text>
<ellipse cx="636.0" cy="193.9" rx="5.0" ry="4.0" fill="none" stroke="#00ff00" stroke-width="2"/>
<text class="t" x="647" y="198.6" style="font-size:12.3px" textLength="15.6" lengthAdjust="spacingAndGlyphs">AC</text>
<ellipse cx="636.0" cy="208.8" rx="5.0" ry="4.0" fill="none" stroke="#ff00ff" stroke-width="2"/>
<text class="t" x="647" y="213.5" style="font-size:12.3px" textLength="15.4" lengthAdjust="spacingAndGlyphs">CC</text>
<line x1="630.3" y1="219.2" x2="642" y2="228.6" stroke="#000" stroke-width="2" stroke-dasharray="3.7,1.95"/>
<text class="t" x="647.3" y="228.7" style="font-size:12.3px" textLength="24.6" lengthAdjust="spacingAndGlyphs">Prior</text>
<line x1="630.3" y1="234.5" x2="642" y2="243.8" stroke="#000" stroke-width="2"/>
<text class="t" x="647.3" y="243.8" style="font-size:12.3px" textLength="46.9" lengthAdjust="spacingAndGlyphs">Posterior</text>
</svg></body></html>
